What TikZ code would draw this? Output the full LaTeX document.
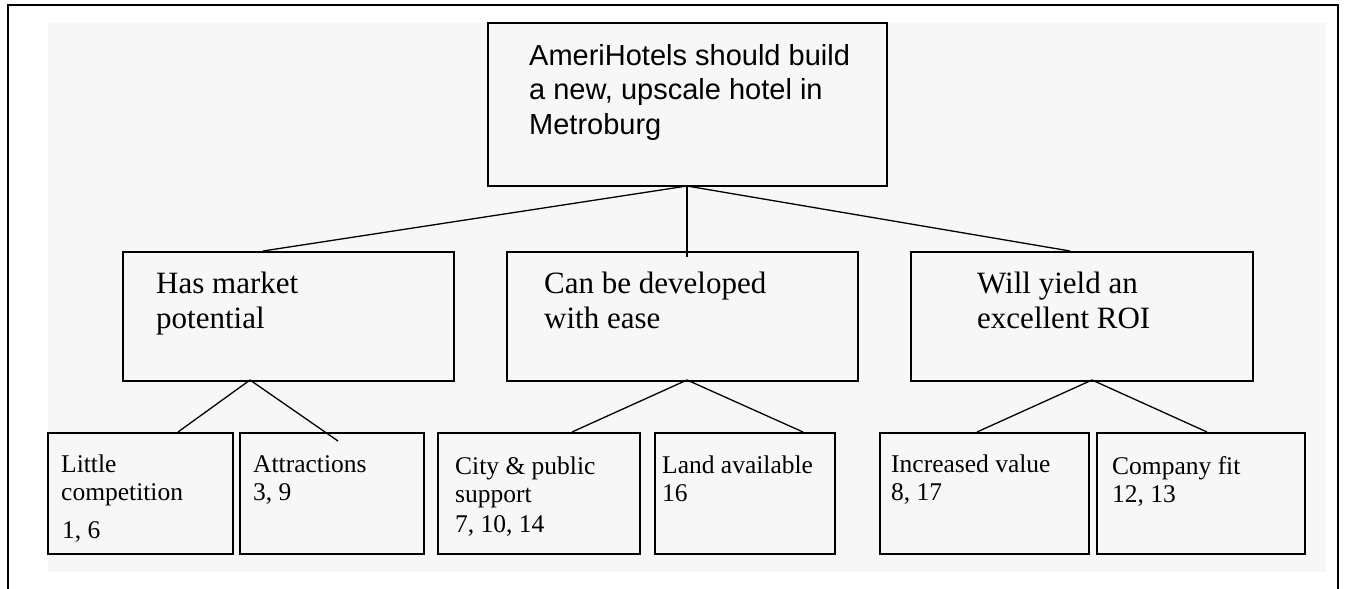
\documentclass[tikz,border=0pt]{standalone}
\usepackage{fontspec}
\setmainfont{Liberation Serif}
\newfontfamily\arialf{Liberation Sans}
\definecolor{bggray}{HTML}{F7F7F7}
\begin{document}
\begin{tikzpicture}[x=1pt,y=-1pt,
  box/.style={draw=black,line width=1.6pt,fill=bggray,inner sep=0pt,anchor=north west},
  conn/.style={draw=black,line width=1.3pt},
  toptxt/.style={anchor=base west,inner sep=0pt,font=\arialf\fontsize{29}{34}\selectfont},
  midtxt/.style={anchor=base west,inner sep=0pt,font=\fontsize{31}{35}\selectfont},
  lowtxt/.style={anchor=base west,inner sep=0pt,font=\fontsize{25.5}{28}\selectfont}]
\useasboundingbox (0,0) rectangle (1345,589);
\fill[white] (0,0) rectangle (1345,589);
\fill[bggray] (48,23) rectangle (1326,572);
\draw[line width=2.2pt] (8,600) -- (8,5) -- (1338,5) -- (1338,600);
% boxes
\node[box,minimum width=399pt,minimum height=163pt] (top) at (487,22) {};
\node[box,minimum width=331pt,minimum height=129pt] (m1) at (122,251) {};
\node[box,minimum width=351pt,minimum height=129pt] (m2) at (506,251) {};
\node[box,minimum width=342pt,minimum height=129pt] (m3) at (910,251) {};
\node[box,minimum width=185pt,minimum height=121pt] (b1) at (47,432) {};
\node[box,minimum width=184pt,minimum height=121pt] (b2) at (239,432) {};
\node[box,minimum width=202pt,minimum height=121pt] (b3) at (437,432) {};
\node[box,minimum width=180pt,minimum height=121pt] (b4) at (654,432) {};
\node[box,minimum width=209pt,minimum height=121pt] (b5) at (879,432) {};
\node[box,minimum width=208pt,minimum height=121pt] (b6) at (1096,432) {};
% connector end points
\coordinate (t0) at (687,186);
\coordinate (m1in) at (263,251);
\coordinate (m2in) at (687,257);
\coordinate (m3in) at (1070,251);
\coordinate (m1out) at (250,380);
\coordinate (m2out) at (687,380);
\coordinate (m3out) at (1092,380);
\coordinate (b1in) at (178,432);
\coordinate (b2in) at (338,441);
\coordinate (b3in) at (572,432);
\coordinate (b4in) at (803,432);
\coordinate (b5in) at (977,432);
\coordinate (b6in) at (1207,432);
\draw[conn] (t0) -- (m1in);
\draw[conn] (t0) -- (m2in);
\draw[conn] (t0) -- (m3in);
\draw[conn] (m1out) -- (b1in);
\draw[conn] (m1out) -- (b2in);
\draw[conn] (m2out) -- (b3in);
\draw[conn] (m2out) -- (b4in);
\draw[conn] (m3out) -- (b5in);
\draw[conn] (m3out) -- (b6in);
% texts
\node[toptxt] (t1) at (529,65) {AmeriHotels should build};
\node[toptxt] (t2) at (529,99) {a new, upscale hotel in};
\node[toptxt] (t3) at (529,134) {Metroburg};
\node[midtxt] (m1a) at (156,293) {Has market};
\node[midtxt] (m1b) at (156,328) {potential};
\node[midtxt] (m2a) at (544,293) {Can be developed};
\node[midtxt] (m2b) at (544,328) {with ease};
\node[midtxt] (m3a) at (977,293) {Will yield an};
\node[midtxt] (m3b) at (977,328) {excellent ROI};
\node[lowtxt] (b1a) at (61,472) {Little};
\node[lowtxt] (b1b) at (61,500) {competition};
\node[lowtxt] (b1c) at (62,538) {1, 6};
\node[lowtxt] (b2a) at (253,472) {Attractions};
\node[lowtxt] (b2b) at (253,500) {3, 9};
\node[lowtxt] (b3a) at (455,474) {City \& public};
\node[lowtxt] (b3b) at (455,502) {support};
\node[lowtxt] (b3c) at (455,532) {7, 10, 14};
\node[lowtxt] (b4a) at (662,473) {Land available};
\node[lowtxt] (b4b) at (662,501) {16};
\node[lowtxt] (b5a) at (891,472) {Increased value};
\node[lowtxt] (b5b) at (891,500) {8, 17};
\node[lowtxt] (b6a) at (1112,474) {Company fit};
\node[lowtxt] (b6b) at (1112,502) {12, 13};
\end{tikzpicture}
\end{document}
